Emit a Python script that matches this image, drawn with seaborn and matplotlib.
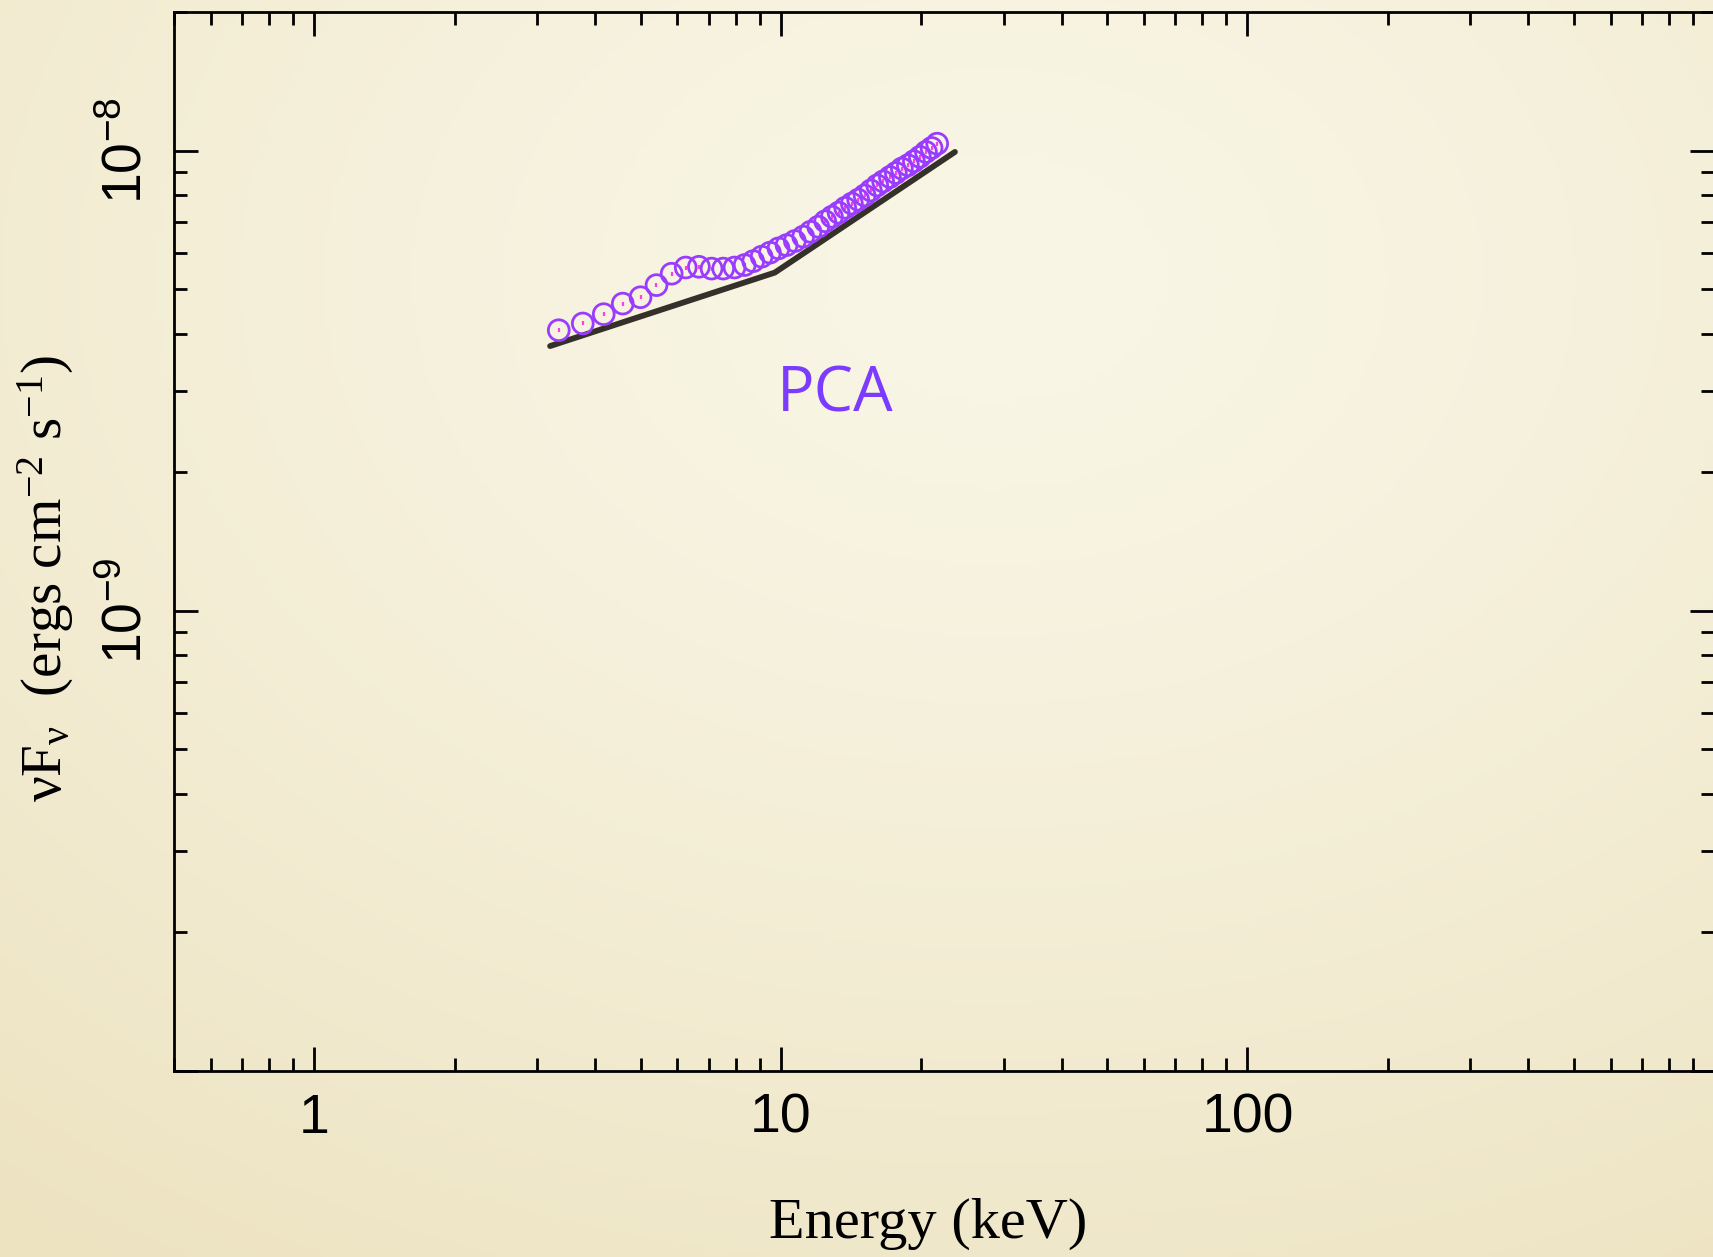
import numpy as np
import pandas as pd
import matplotlib
matplotlib.use("Agg")
import matplotlib.pyplot as plt
from matplotlib.ticker import LogLocator, NullFormatter, FixedLocator, FixedFormatter
import seaborn as sns

# PCA spectrum: energy (keV) and nuFnu (erg cm^-2 s^-1)
pca_energy = [3.34, 3.76, 4.17, 4.58, 5.00, 5.41, 5.83, 6.25, 6.67, 7.10,
              7.52, 7.95, 8.36, 8.72, 9.09, 9.47, 9.88, 10.28, 10.71, 11.16,
              11.57, 12.02, 12.44, 12.86, 13.29, 13.73, 14.19, 14.64, 15.11, 15.58,
              16.08, 16.56, 17.12, 17.63, 18.16, 18.71, 19.27, 19.85, 20.45, 21.03,
              21.62]
pca_flux = [4.07e-9, 4.21e-9, 4.41e-9, 4.65e-9, 4.80e-9, 5.10e-9, 5.40e-9, 5.57e-9, 5.59e-9, 5.54e-9,
            5.54e-9, 5.57e-9, 5.64e-9, 5.75e-9, 5.88e-9, 6.00e-9, 6.13e-9, 6.23e-9, 6.36e-9, 6.50e-9,
            6.66e-9, 6.83e-9, 7.02e-9, 7.18e-9, 7.33e-9, 7.51e-9, 7.67e-9, 7.82e-9, 7.99e-9, 8.19e-9,
            8.40e-9, 8.57e-9, 8.76e-9, 8.94e-9, 9.14e-9, 9.29e-9, 9.48e-9, 9.69e-9, 9.93e-9, 1.013e-8,
            1.035e-8]
pca_rel_err = 0.01

# Broken power-law model
model_energy = [3.20, 9.70, 23.6]
model_flux = [3.76e-9, 5.43e-9, 9.93e-9]

x_ticks = [1, 10, 100]
x_tick_labels = ["1", "10", "100"]
y_ticks = [1e-10, 1e-9, 1e-8]
y_tick_labels = ["", r"$\mathsf{10^{-9}}$", r"$\mathsf{10^{-8}}$"]

sns.set_theme(style="ticks")
plt.rcParams["font.family"] = ["Liberation Serif", "DejaVu Serif"]
plt.rcParams["mathtext.fontset"] = "custom"
plt.rcParams["mathtext.rm"] = "Liberation Serif"
plt.rcParams["mathtext.it"] = "Liberation Serif:italic"
plt.rcParams["mathtext.sf"] = "Liberation Sans"
plt.rcParams["mathtext.default"] = "rm"

W, H = 1713, 1257
fig = plt.figure(figsize=(W / 100, H / 100), dpi=100)

# Cream backdrop with a soft vignette
bg = fig.add_axes([0, 0, 1, 1], zorder=-10)
yy, xx = np.mgrid[0:1:300j, 0:1:400j]
d = np.sqrt(((xx - 0.58) / 1.0) ** 2 + ((yy - 0.22) / 1.0) ** 2)
t = np.clip(d / 0.95, 0, 1) ** 1.3
light = np.array([249, 246, 230]) / 255
dark = np.array([237, 227, 193]) / 255
img = light[None, None, :] * (1 - t[..., None]) + dark[None, None, :] * t[..., None]
bg.imshow(img, extent=[0, 1, 0, 1], aspect="auto", origin="upper")
bg.set_axis_off()

left, right, top, bottom = 174 / W, 1714 / W, 1 - 12 / H, 1 - 1071 / H
ax = fig.add_axes([left, bottom, right - left, top - bottom])
ax.patch.set_alpha(0)

df_model = pd.DataFrame({"energy": model_energy, "flux": model_flux})
df_pca = pd.DataFrame({"energy": pca_energy, "flux": pca_flux})

sns.lineplot(data=df_model, x="energy", y="flux", ax=ax, color="#35312a",
             linewidth=4.2, sort=False, zorder=2)
ax.errorbar(df_pca["energy"], df_pca["flux"], yerr=df_pca["flux"] * pca_rel_err,
            fmt="none", ecolor="#ff3ce6", elinewidth=1.6, capsize=0, zorder=3)
sns.scatterplot(data=df_pca, x="energy", y="flux", ax=ax, marker="o", s=225,
                facecolors="none", edgecolor="#9a3cff", linewidth=2.0, zorder=4)

ax.set_xscale("log")
ax.set_yscale("log")
ax.set_xlim(0.5, 1000)
ax.set_ylim(1e-10, 2e-8)

ax.xaxis.set_major_locator(FixedLocator(x_ticks))
ax.xaxis.set_major_formatter(FixedFormatter(x_tick_labels))
ax.xaxis.set_minor_locator(LogLocator(base=10, subs=np.arange(2, 10)))
ax.xaxis.set_minor_formatter(NullFormatter())
ax.yaxis.set_major_locator(FixedLocator(y_ticks))
ax.yaxis.set_major_formatter(FixedFormatter(y_tick_labels))
ax.yaxis.set_minor_locator(LogLocator(base=10, subs=np.arange(2, 10)))
ax.yaxis.set_minor_formatter(NullFormatter())

for s in ax.spines.values():
    s.set_linewidth(2.0)
    s.set_color("#000000")

ax.tick_params(which="both", direction="in", top=True, right=True,
               color="#000000", width=2.0, labelcolor="#000000")
ax.tick_params(which="major", length=17)
ax.tick_params(which="minor", length=9.4)
ax.tick_params(axis="x", which="major", labelsize=40, pad=15.5)
ax.tick_params(axis="y", which="major", labelsize=40, pad=14.5)
for lab in ax.get_xticklabels():
    lab.set_fontfamily(["Liberation Sans", "DejaVu Sans"])
for lab in ax.get_yticklabels():
    lab.set_rotation(90)
    lab.set_va("center")
    lab.set_ha("right")

ax.set_xlabel("Energy (keV)", fontsize=42, color="#000000")
ax.xaxis.label.set_va("center")
ax.xaxis.set_label_coords(0.4897, -0.144)
ax.set_ylabel(r"$\mathrm{\nu}$F$_{\mathrm{\nu}}$  (ergs cm$^{-2}$ s$^{-1}$)",
              fontsize=41, color="#000000")
ax.yaxis.label.set_va("center")
ax.yaxis.set_label_coords(-0.0831, 0.4646)

ax.text(13.1, 2.94e-9, "PCA", fontsize=45, color="#7b3cff",
        fontfamily=["Open Sans", "DejaVu Sans"], ha="center", va="center")

fig.savefig("out.png", dpi=100)
